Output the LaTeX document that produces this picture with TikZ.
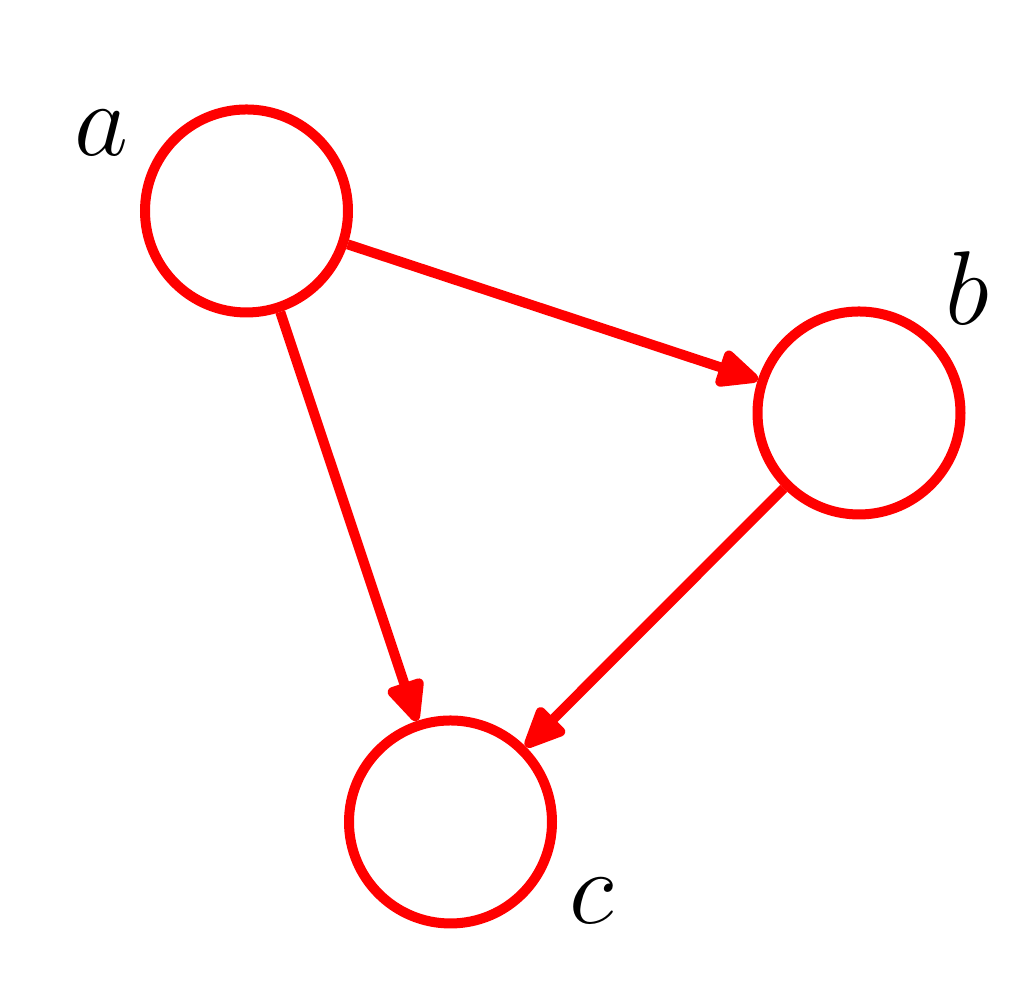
\documentclass[tikz,border=0pt]{standalone}
\usetikzlibrary{arrows.meta}
\begin{document}
\begin{tikzpicture}[
    >={Triangle[length=4.8mm,width=4mm,round]},
    line width=0.1cm,
    var/.style={circle, draw=red, minimum size=2.03cm, inner sep=0pt},
    lab/.style={inner sep=0pt, font=\Huge, scale=1.2, transform shape}
]
  \useasboundingbox (0,0) rectangle (10.3,10);
  % nodes
  \node[var] (a) at (2.465,7.89) {};
  \node[var] (b) at (8.59,5.87)  {};
  \node[var] (c) at (4.505,1.78) {};

  % labels
  \node[lab] (la) at (1.01,8.67) {$a$};
  \node[lab] (lb) at (9.67,7.12) {$b$};
  \node[lab] (lc) at (5.92,0.99) {$c$};

  % edges
  \draw[->, red] (a) -- (b);
  \draw[->, red] (a) -- (c);
  \draw[->, red] (b) -- (c);
\end{tikzpicture}
\end{document}
